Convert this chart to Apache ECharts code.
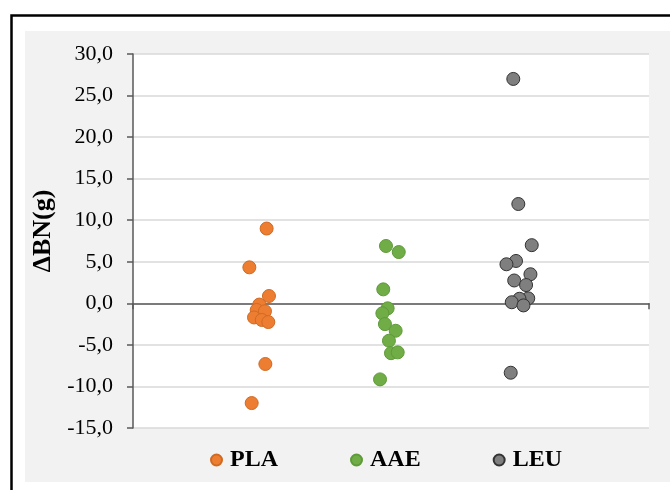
<!DOCTYPE html>
<html>
<head>
<meta charset="utf-8">
<script src="https://cdn.jsdelivr.net/npm/echarts@6/dist/echarts.min.js"></script>
<style>html,body{margin:0;padding:0;background:#fff;}#c{width:670px;height:490px;}</style>
</head>
<body>
<div id="c"></div>
<script>
var seriesNames = ['PLA', 'AAE', 'LEU'];
var yTicks = [-15, -10, -5, 0, 5, 10, 15, 20, 25, 30];
// [jittered group position, ΔBN (g)]
var plaData = [[1.036, 9.0], [0.902, 4.33], [1.054, 0.88], [0.979, -0.15], [0.959, -0.8], [1.023, -0.95], [0.938, -1.7], [0.998, -2.0], [1.049, -2.25], [1.026, -7.3], [0.920, -12.0]];
var aaeData = [[1.961, 6.9], [2.060, 6.17], [1.940, 1.68], [1.974, -0.6], [1.933, -1.2], [1.953, -2.5], [2.036, -3.3], [1.984, -4.5], [2.000, -6.0], [2.052, -5.9], [1.915, -9.15]];
var leuData = [[2.948, 27.0], [2.987, 11.95], [3.091, 7.0], [2.969, 5.1], [2.895, 4.7], [3.081, 3.5], [2.955, 2.75], [3.047, 2.2], [3.064, 0.6], [2.996, 0.55], [2.936, 0.13], [3.027, -0.25], [2.928, -8.35]];

var chart = echarts.init(document.getElementById('c'), null, {renderer: 'canvas'});
var serif = '"Liberation Serif", "Times New Roman", serif';
function mk(name, data, fill, border) {
  return {
    name: name, type: 'scatter', data: data, symbol: 'circle', symbolSize: 13,
    itemStyle: {color: fill, borderColor: border, borderWidth: 1, opacity: 1},
    emphasis: {disabled: true}
  };
}
chart.setOption({
  animation: false,
  backgroundColor: '#fff',
  graphic: [
    {type: 'rect', z: -10, shape: {x: 25, y: 31, width: 660, height: 451}, style: {fill: '#f2f2f2'}},
    {type: 'rect', z: -9, shape: {x: 11.5, y: 15.5, width: 700, height: 500}, style: {fill: 'none', stroke: '#000', lineWidth: 2.5}}
  ],
  grid: {left: 133, right: 21, top: 54, bottom: 62, show: true, backgroundColor: '#fff', borderWidth: 0},
  xAxis: {
    type: 'value', min: 0, max: 4, interval: 4,
    axisLine: {show: true, onZero: true, lineStyle: {color: '#595959', width: 1.5}},
    axisTick: {show: true, length: 6, lineStyle: {color: '#595959', width: 1.5}},
    axisLabel: {show: false},
    splitLine: {show: false}
  },
  yAxis: {
    type: 'value', min: yTicks[0], max: yTicks[yTicks.length - 1], interval: 5,
    name: 'ΔBN(g)', nameLocation: 'middle', nameGap: 71, nameRotate: 90,
    nameTextStyle: {fontFamily: serif, fontWeight: 'bold', fontSize: 26, color: '#000', padding: [0, 0, 0, 20]},
    axisLine: {show: true, onZero: false, lineStyle: {color: '#595959', width: 1.5}},
    axisTick: {show: true, length: 6, lineStyle: {color: '#595959', width: 1.5}},
    axisLabel: {fontFamily: serif, fontSize: 22, color: '#000', margin: 20,
      formatter: function (v) { return v.toFixed(1).replace('.', ','); }},
    splitLine: {show: true, lineStyle: {color: '#d9d9d9', width: 1.5}}
  },
  legend: {
    data: seriesNames, left: 205, top: 443, itemGap: 72, itemWidth: 11, itemHeight: 11,
    icon: 'circle',
    textStyle: {fontFamily: serif, fontWeight: 'bold', fontSize: 24, color: '#000', padding: [0, 0, 0, 3]}
  },
  series: [
    mk(seriesNames[0], plaData, '#ED7D31', '#d06a22'),
    mk(seriesNames[1], aaeData, '#70AD47', '#5f9a3a'),
    mk(seriesNames[2], leuData, '#7F7F7F', '#333333')
  ]
});
</script>
</body>
</html>
